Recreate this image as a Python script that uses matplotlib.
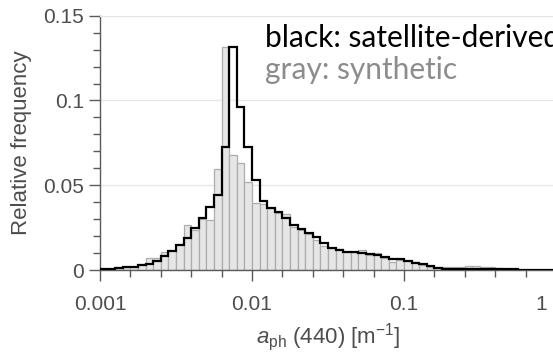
import numpy as np
import matplotlib
matplotlib.use('Agg')
import matplotlib.pyplot as plt
import matplotlib.transforms as mtransforms
from matplotlib.ticker import FixedLocator, NullFormatter

# histogram bins : 20 per decade between 0.001 and 1
bin_edges = np.logspace(-3, 0, 61)

# satellite-derived (black step line)
freq_satellite = [0.0006, 0.0008, 0.0013, 0.0015, 0.0019, 0.0030, 0.0035, 0.0053, 0.0083, 0.0112,
                  0.0147, 0.0190, 0.0245, 0.0308, 0.0370, 0.0440, 0.0723, 0.1317, 0.0963, 0.0723,
                  0.0531, 0.0407, 0.0366, 0.0344, 0.0309, 0.0267, 0.0240, 0.0216, 0.0193, 0.0157,
                  0.0132, 0.0118, 0.0108, 0.0104, 0.0098, 0.0094, 0.0088, 0.0075, 0.0067, 0.0063,
                  0.0055, 0.0043, 0.0035, 0.0024, 0.0012, 0.0008, 0.0008, 0.0008, 0.0008, 0.0008,
                  0.0008, 0.0008, 0.0008, 0.0007, 0.0004, 0.0002, 0.0002, 0.0002, 0.0002, 0.0002]

# synthetic (gray bars)
freq_synthetic = [0.0004, 0.0007, 0.0016, 0.0020, 0.0018, 0.0035, 0.0069, 0.0073, 0.0108, 0.0116,
                  0.0155, 0.0265, 0.0238, 0.0303, 0.0295, 0.0594, 0.1313, 0.0678, 0.0634, 0.0517,
                  0.0397, 0.0387, 0.0364, 0.0334, 0.0328, 0.0255, 0.0236, 0.0210, 0.0178, 0.0141,
                  0.0130, 0.0126, 0.0106, 0.0104, 0.0118, 0.0088, 0.0098, 0.0069, 0.0047, 0.0059,
                  0.0053, 0.0047, 0.0030, 0.0020, 0.0020, 0.0020, 0.0020, 0.0016, 0.0024, 0.0024,
                  0.0020, 0.0016, 0.0012, 0.0008, 0.0004, 0.0002, 0.0002, 0.0001, 0.0001, 0.0001]

x_ticks = [0.001, 0.01, 0.1, 1]
x_tick_labels = ['0.001', '0.01', '0.1', '1']
y_ticks = [0, 0.05, 0.1, 0.15]
y_tick_labels = ['0', '0.05', '0.1', '0.15']

plt.rcParams['font.family'] = ['Liberation Sans', 'DejaVu Sans']
plt.rcParams['mathtext.fontset'] = 'custom'
plt.rcParams['mathtext.rm'] = 'Liberation Sans'
plt.rcParams['mathtext.it'] = 'Liberation Sans:italic'

fig = plt.figure(figsize=(5.53, 3.57), dpi=100)
ax = fig.add_axes([100 / 553, 87 / 357, 456 / 553, 254.3 / 357])

# barres grises (synthetique)
ax.bar(bin_edges[:-1], freq_synthetic, width=np.diff(bin_edges), align='edge',
       color='#e6e6e6', edgecolor='#adadad', linewidth=0.9, zorder=2)

# ligne en escalier noire (satellite)
ax.stairs(freq_satellite, bin_edges, color='black', linewidth=1.6, zorder=3)

ax.set_xscale('log')
ax.set_xlim(0.001, 1)
ax.set_ylim(0, 0.15)

ax.xaxis.set_major_locator(FixedLocator(x_ticks))
ax.set_xticklabels(x_tick_labels)
minor_x = [v for v in np.logspace(-3, 0, 16) if not np.isclose(np.log10(v) % 1, 0)]
ax.xaxis.set_minor_locator(FixedLocator(minor_x))
ax.xaxis.set_minor_formatter(NullFormatter())

ax.set_yticks(y_ticks)
ax.set_yticklabels(y_tick_labels)
ax.yaxis.set_minor_locator(FixedLocator(np.arange(0, 0.151, 0.01)))

ax.tick_params(which='both', direction='out', colors='#5a5a5a', labelcolor='#4d4d4d',
               labelsize=15, width=1)
ax.tick_params(which='major', length=8)
ax.tick_params(which='minor', length=5)
ax.tick_params(axis='x', pad=10)

# grille horizontale legere
ax.yaxis.grid(True, color='#e8e8e8', linewidth=1, zorder=0)
ax.set_axisbelow(True)

for side in ['left', 'bottom']:
    ax.spines[side].set_color('#5a5a5a')
    ax.spines[side].set_linewidth(1)
ax.spines['top'].set_color('#e8e8e8')
ax.spines['right'].set_visible(False)

# le label "1" est decale vers la gauche
lbl = ax.get_xticklabels()[-1]
lbl.set_transform(lbl.get_transform() + mtransforms.ScaledTranslation(-15 / 100, 0, fig.dpi_scale_trans))

ax.set_ylabel('Relative frequency', fontsize=16, color='#4d4d4d', labelpad=8)
ax.set_xlabel(r'$a_{\rm ph}$ (440) [m$^{-1}$]', fontsize=16, color='#4d4d4d', labelpad=5)

ax.text(0.362, 0.912, 'black: satellite-derived', transform=ax.transAxes, fontsize=21.5,
        family=['Lato', 'DejaVu Sans'], color='black', va='center', ha='left', zorder=5)
ax.text(0.362, 0.785, 'gray: synthetic', transform=ax.transAxes, fontsize=21.5,
        family=['Lato', 'DejaVu Sans'], color='#8c8c8c', va='center', ha='left', zorder=5)

fig.savefig('out.png', dpi=100)
